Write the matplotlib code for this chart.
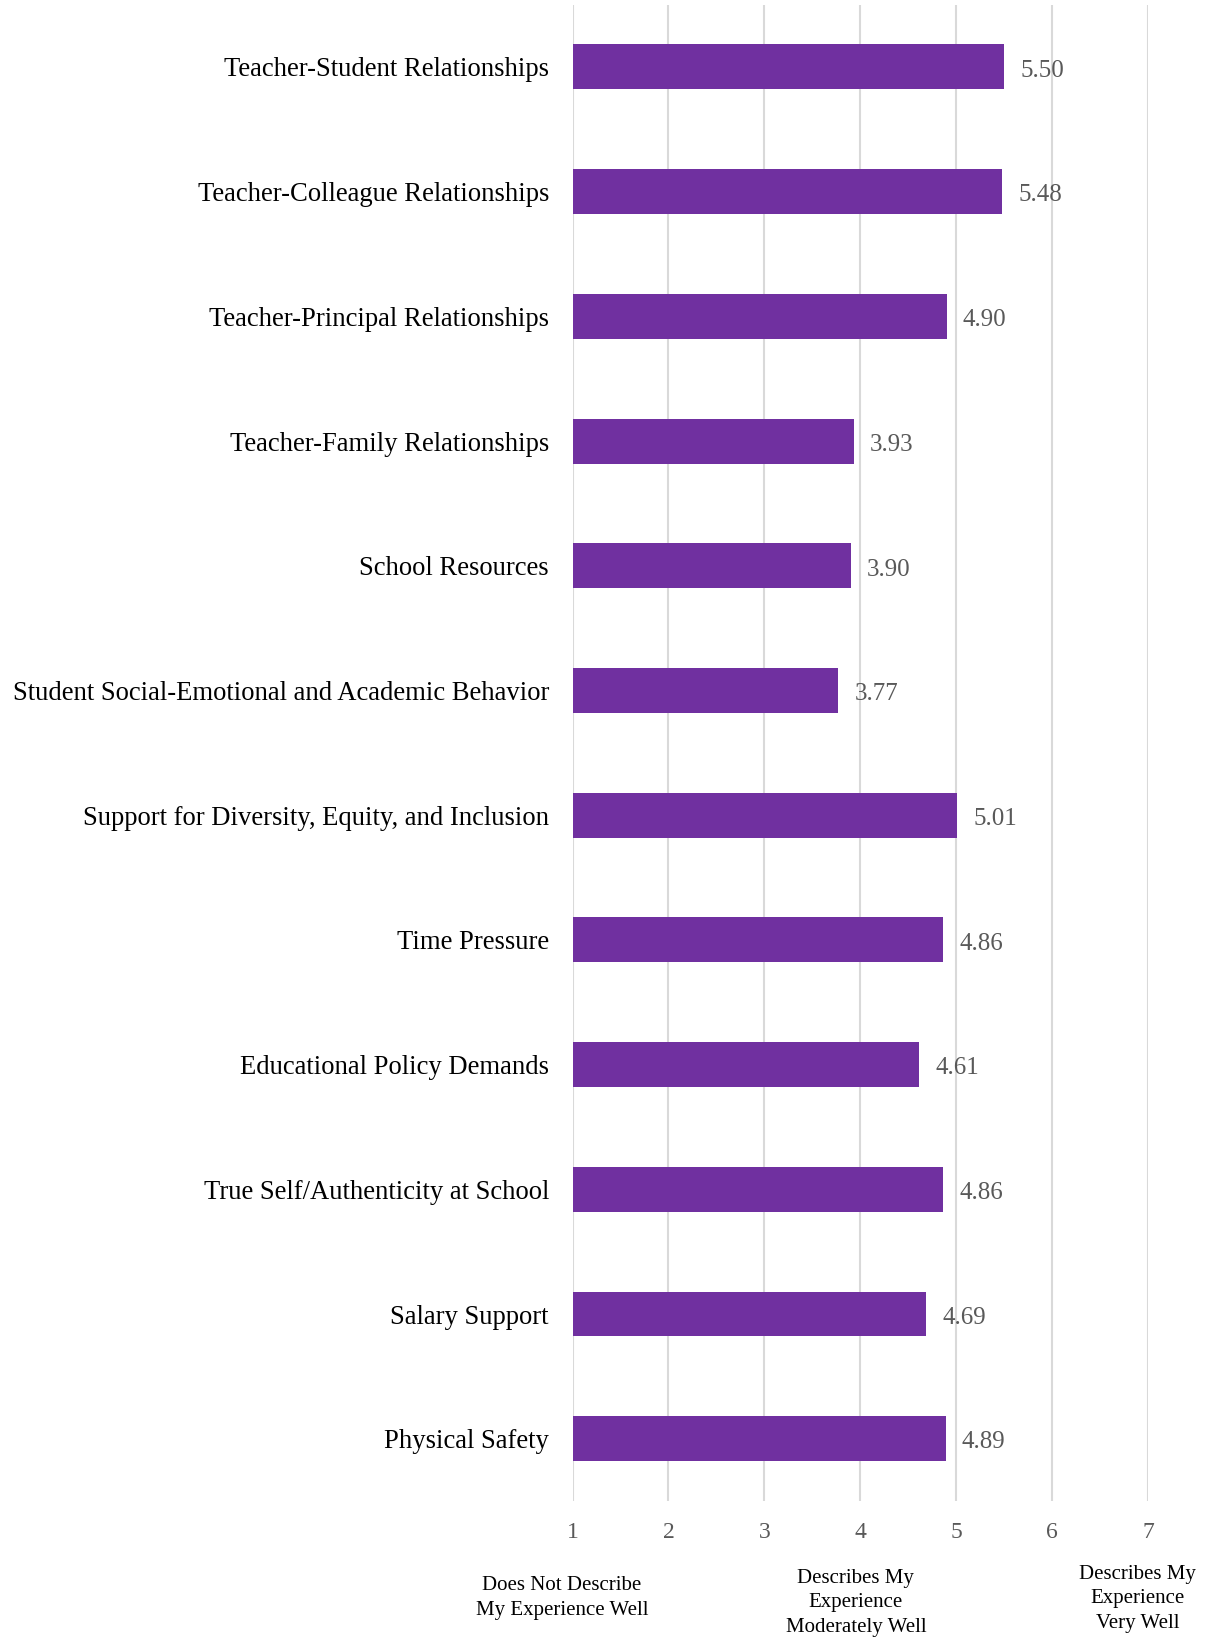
import matplotlib.pyplot as plt

categories = [
    "Teacher-Student Relationships",
    "Teacher-Colleague Relationships",
    "Teacher-Principal Relationships",
    "Teacher-Family Relationships",
    "School Resources",
    "Student Social-Emotional and Academic Behavior",
    "Support for Diversity, Equity, and Inclusion",
    "Time Pressure",
    "Educational Policy Demands",
    "True Self/Authenticity at School",
    "Salary Support",
    "Physical Safety",
]
scores = [5.50, 5.48, 4.90, 3.93, 3.90, 3.77, 5.01, 4.86, 4.61, 4.86, 4.69, 4.89]
ticks = [1, 2, 3, 4, 5, 6, 7]
scale_labels = [
    (1, "Does Not Describe\nMy Experience Well"),
    (4, "Describes My\nExperience\nModerately Well"),
    (7, "Describes My\nExperience\nVery Well"),
]

plt.rcParams['font.family'] = ['Liberation Serif', 'DejaVu Serif']

fig = plt.figure(figsize=(12.14, 16.38), dpi=100)
ax = fig.add_axes([0.4716, 0.0836, 0.474, 0.9136])

purple = '#7030a0'
grid = '#d9d9d9'
gray = '#595959'

y = list(range(len(categories)))
ax.barh(y, [s - 1 for s in scores], left=1, height=0.36, color=purple, zorder=3)
for yi, s in zip(y, scores):
    ax.text(s + 0.17, yi + 0.01, f"{s:.2f}", va='center_baseline', ha='left', fontsize=18, color=gray)

ax.set_xlim(1, 7)
ax.set_ylim(len(categories) - 0.5, -0.5)
ax.set_xticks(ticks)
ax.set_xticklabels([str(t) for t in ticks], fontsize=17, color=gray)
ax.set_yticks(y)
ax.set_yticklabels(categories, fontsize=19.2, color='black')
ax.tick_params(axis='x', length=0, pad=15)
ax.tick_params(axis='y', length=0, pad=17)
ax.grid(axis='x', color=grid, linewidth=1.5, zorder=0)
for sp in ax.spines.values():
    sp.set_visible(False)

# scale descriptions under the axis
xpos = {1: 0.463, 4: 0.705, 7: 0.937}
ypos = {1: 0.0245, 4: 0.0215, 7: 0.024}
for t, lab in scale_labels:
    fig.text(xpos[t], ypos[t], lab, ha='center', va='center', fontsize=15,
             color='black', linespacing=1.4)

fig.savefig('out.png', dpi=100)
